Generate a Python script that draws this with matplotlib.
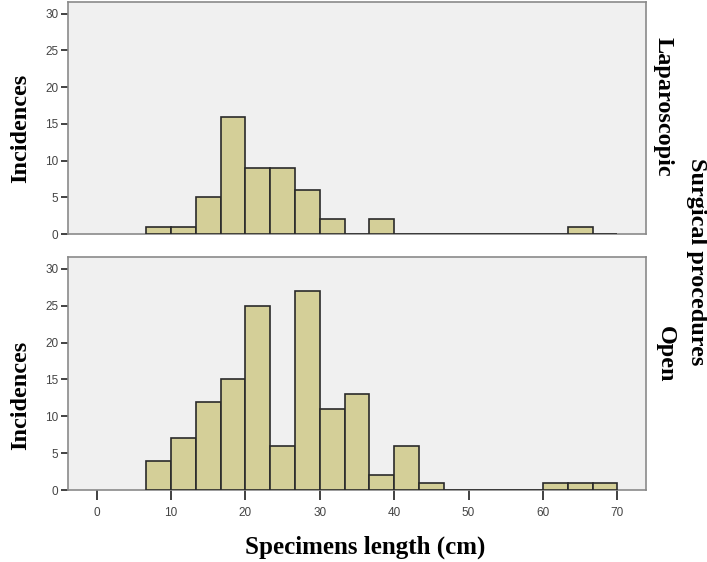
import numpy as np
import matplotlib
matplotlib.use("Agg")
import matplotlib.pyplot as plt

# bin edges (cm) as used by the histogram: 6.67 .. 70, width 3.33
bin_lo = 20 / 3
bin_w = 10 / 3
n_bins = 19

lap_counts = [1, 1, 5, 16, 9, 9, 6, 2, 0, 2, 0, 0, 0, 0, 0, 0, 0, 1, 0]
open_counts = [4, 7, 12, 15, 25, 6, 27, 11, 13, 2, 6, 1, 0, 0, 0, 0, 1, 1, 1]

x_ticks = [0, 10, 20, 30, 40, 50, 60, 70]
y_ticks = [0, 5, 10, 15, 20, 25, 30]

BAR = "#d4cf98"
BG = "#f0f0f0"
FRAME = "#8a8a8a"
SERIF = "Liberation Serif"

fig = plt.figure(figsize=(7.07, 5.62), dpi=100)
ax_top = fig.add_axes([0.0962, 0.5836, 0.8175, 0.4128])
ax_bot = fig.add_axes([0.0962, 0.1281, 0.8175, 0.4146])

lefts = bin_lo + bin_w * np.arange(n_bins)

for ax, counts in ((ax_top, lap_counts), (ax_bot, open_counts)):
    ax.set_facecolor(BG)
    ax.bar(lefts, counts, width=bin_w, align="edge", color=BAR,
           edgecolor="#2a2a2a", linewidth=1.2, zorder=3)
    ax.set_xlim(-3.86, 73.85)
    ax.set_ylim(0, 31.6)
    ax.set_yticks(y_ticks)
    for s in ax.spines.values():
        s.set_color(FRAME)
        s.set_linewidth(1.2)
    ax.tick_params(axis="y", direction="out", length=5, width=1.3,
                   color="#333333", labelsize=8.5, labelcolor="#444444", pad=2)
    for lab in ax.get_yticklabels():
        lab.set_family("Liberation Sans")

ax_top.set_xticks([])
ax_bot.set_xticks(x_ticks)
ax_bot.tick_params(axis="x", direction="out", length=7, width=1.3,
                   color="#333333", labelsize=8.5, labelcolor="#444444", pad=5)
for lab in ax_bot.get_xticklabels():
    lab.set_family("Liberation Sans")

# axis titles
fig.text(0.029, 1 - 128 / 562, "Incidences", rotation=90, ha="center",
         va="center", family=SERIF, weight="bold", fontsize=17.5)
fig.text(0.029, 1 - 395 / 562, "Incidences", rotation=90, ha="center",
         va="center", family=SERIF, weight="bold", fontsize=17.5)
fig.text(365 / 707, 1 - 547 / 562, "Specimens length (cm)", ha="center",
         va="center", family=SERIF, weight="bold", fontsize=18)

# panel labels on the right
fig.text(663 / 707, 1 - 107 / 562, "Laparoscopic", rotation=-90, ha="center",
         va="center", family=SERIF, weight="bold", fontsize=17.5)
fig.text(665 / 707, 1 - 354 / 562, "Open", rotation=-90, ha="center",
         va="center", family=SERIF, weight="bold", fontsize=17.5)
fig.text(697 / 707, 1 - 262 / 562, "Surgical procedures", rotation=-90,
         ha="center", va="center", family=SERIF, weight="bold", fontsize=17.5)

fig.savefig("out.png", dpi=100)
plt.close(fig)
